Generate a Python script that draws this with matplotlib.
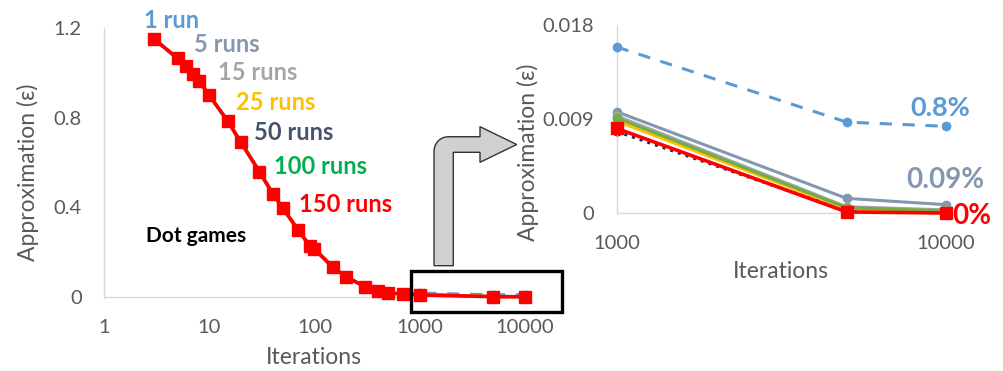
import matplotlib
matplotlib.use("Agg")
import matplotlib.pyplot as plt
from matplotlib.path import Path
from matplotlib.patches import PathPatch, Rectangle
import matplotlib.transforms as mtransforms

plt.rcParams['font.family'] = ['Lato', 'DejaVu Sans']

# ---------------- data ----------------
series_names = ["1 run", "5 runs", "15 runs", "25 runs", "50 runs", "100 runs", "150 runs"]
series_colors = ["#5B9BD5", "#8497B0", "#A5A5A5", "#FFC000", "#1F2A44", "#70AD47", "#FF0000"]
label_colors = ["#5B9BD5", "#8497B0", "#A5A5A5", "#FFC000", "#44546A", "#00B050", "#FF0000"]

# common early part of the curves (all series overlap there)
early_iters = [3, 5, 6, 7, 8, 10, 15, 20, 30, 40, 50, 70, 90, 100, 150, 200, 300, 400, 500, 700]
early_eps = [1.152, 1.065, 1.03, 0.996, 0.964, 0.90, 0.785, 0.69, 0.559, 0.461, 0.396,
             0.298, 0.228, 0.213, 0.131, 0.089, 0.045, 0.027, 0.017, 0.012]

# tail (zoomed panel)
tail_iters = [1000, 5000, 10000]
eps_1 = [0.0159, 0.0087, 0.0083]
eps_5 = [0.0097, 0.0014, 0.0008]
eps_15 = [0.0093, 0.0006, 0.0003]
eps_25 = [0.0088, 0.0004, 0.0002]
eps_50 = [0.0078, 0.0002, 0.0001]
eps_100 = [0.0091, 0.0005, 0.0002]
eps_150 = [0.0081, 0.0001, 0.0000]
tails = [eps_1, eps_5, eps_15, eps_25, eps_50, eps_100, eps_150]

left_xticks = [1, 10, 100, 1000, 10000]
left_yticks = [0, 0.4, 0.8, 1.2]
left_yticklabels = ["0", "0.4", "0.8", "1.2"]
right_xticks = [1000, 10000]
right_yticks = [0, 0.009, 0.018]
right_yticklabels = ["0", "0.009", "0.018"]

pct_labels = ["0.8%", "0.09%", "0%"]

# ---------------- figure ----------------
W, H = 1004, 371
fig = plt.figure(figsize=(W / 100, H / 100), dpi=100)
px = mtransforms.Affine2D().scale(1 / W, -1 / H).translate(0, 1) + fig.transFigure

def ax_rect(x0, x1, ytop, ybot):
    return [x0 / W, (H - ybot) / H, (x1 - x0) / W, (ybot - ytop) / H]

axL = fig.add_axes(ax_rect(104, 525, 28.3, 296.7))
axR = fig.add_axes(ax_rect(616.7, 945.7, 25, 213))

grey_text = "#595959"
spine_col = "#D9D9D9"

def style(ax):
    for s in ["top", "right"]:
        ax.spines[s].set_visible(False)
    for s in ["left", "bottom"]:
        ax.spines[s].set_color(spine_col)
        ax.spines[s].set_linewidth(1.0)
    ax.tick_params(length=0, labelsize=14.5, colors=grey_text, pad=16)
    ax.minorticks_off()

def draw_series(ax, xs_list, ys_list):
    for i, (name, col) in enumerate(zip(series_names, series_colors)):
        xs = xs_list[i]
        ys = ys_list[i]
        if i == 0:
            ax.plot(xs, ys, color=col, lw=2.2, ls=(0, (4, 3.5)), marker='o', ms=6,
                    clip_on=False, zorder=3)
        elif i == 6:
            ax.plot(xs, ys, color=col, lw=2.6, marker='s', ms=8,
                    clip_on=False, zorder=10)
        elif i == 4:
            ax.plot(xs, ys, color=col, lw=2.2, ls=':', marker='o', ms=5,
                    clip_on=False, zorder=2)
        else:
            ax.plot(xs, ys, color=col, lw=2.2, marker='o', ms=6,
                    clip_on=False, zorder=4 + i)

# left panel
style(axL)
xsL = [early_iters + tail_iters for _ in series_names]
ysL = [early_eps + t for t in tails]
draw_series(axL, xsL, ysL)
axL.set_xscale('log')
axL.set_xlim(1, 10000)
axL.set_ylim(0, 1.2)
axL.set_xticks(left_xticks)
axL.set_xticklabels([str(v) for v in left_xticks])
axL.set_yticks(left_yticks)
axL.set_yticklabels(left_yticklabels)
axL.minorticks_off()

# right panel
style(axR)
xsR = [tail_iters for _ in series_names]
draw_series(axR, xsR, tails)
axR.set_xscale('log')
axR.set_xlim(1000, 10000)
axR.set_ylim(0, 0.018)
axR.set_xticks(right_xticks)
axR.set_xticklabels([str(v) for v in right_xticks])
axR.set_yticks(right_yticks)
axR.set_yticklabels(right_yticklabels)
axR.minorticks_off()

# axis labels
fig.text(28, 172, "Approximation (ε)", transform=px, rotation=90, ha='center', va='center',
         fontsize=16.5, color=grey_text)
fig.text(314, 358, "Iterations", transform=px, ha='center', va='center', fontsize=16.5, color=grey_text)
fig.text(528, 152, "Approximation (ε)", transform=px, rotation=90, ha='center', va='center',
         fontsize=16.5, color=grey_text)
fig.text(781, 271, "Iterations", transform=px, ha='center', va='center', fontsize=16.5, color=grey_text)

# series labels on left
label_pos = [(144, 20), (194, 44), (218, 73), (236, 102), (254, 133), (274, 167), (299, 204)]
for (x, y), name, col in zip(label_pos, series_names, label_colors):
    fig.text(x, y, name, transform=px, ha='left', va='center', fontsize=17,
             fontweight='bold', color=col)
fig.text(146, 236, "Dot games", transform=px, ha='left', va='center', fontsize=15,
         fontweight='bold', color='black')

# percentage labels on right
fig.text(940, 108, pct_labels[0], transform=px, ha='center', va='center', fontsize=19.5,
         fontweight='bold', color="#5B9BD5")
fig.text(945, 180, pct_labels[1], transform=px, ha='center', va='center', fontsize=20,
         fontweight='bold', color="#8497B0")
fig.text(972, 216, pct_labels[2], transform=px, ha='center', va='center', fontsize=20,
         fontweight='bold', color="#FF0000")

# highlight rectangle
fig.patches.append(Rectangle((410.7, 270.7), 151, 41, transform=px, fill=False,
                             edgecolor='black', lw=2.4, zorder=20))

# bent arrow
verts = [(434, 265.7), (434, 152), (434, 143), (440, 136.7), (449, 136.7),
         (480, 136.7), (480, 126.7), (516.7, 144.5), (480, 162.3), (480, 152.3),
         (453.3, 152.3), (453.3, 265.7), (434, 265.7)]
codes = [Path.MOVETO, Path.LINETO, Path.CURVE4, Path.CURVE4, Path.CURVE4,
         Path.LINETO, Path.LINETO, Path.LINETO, Path.LINETO, Path.LINETO,
         Path.LINETO, Path.LINETO, Path.CLOSEPOLY]
fig.patches.append(PathPatch(Path(verts, codes), transform=px, facecolor="#D0D0D0",
                             edgecolor="#333333", lw=1.0, zorder=20))

fig.savefig("out.png", dpi=100)
